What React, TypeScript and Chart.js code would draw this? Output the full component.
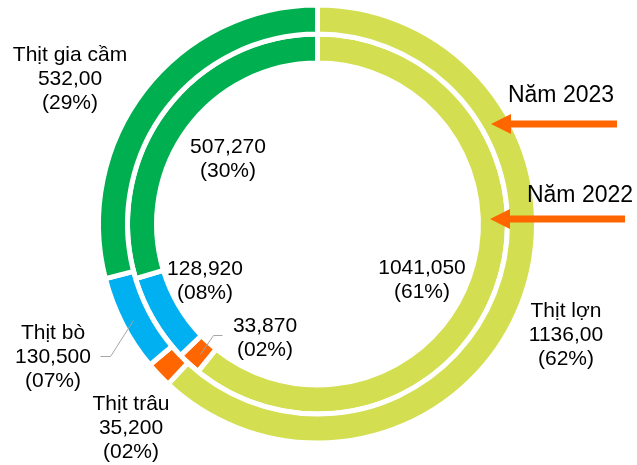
import React, { useEffect, useRef } from "react";
import { Chart, registerables } from "chart.js";

Chart.register(...registerables);

// ---- data ----
const categories = ["Thịt lợn", "Thịt trâu", "Thịt bò", "Thịt gia cầm"];
const seriesNames = ["Năm 2023", "Năm 2022"];
const values2023 = [1136.0, 35.2, 130.5, 532.0];
const values2022 = [1041.05, 33.87, 128.92, 507.27];
const valueText2023 = ["1136,00", "35,200", "130,500", "532,00"];
const valueText2022 = ["1041,050", "33,870", "128,920", "507,270"];
const pctText2023 = ["(62%)", "(02%)", "(07%)", "(29%)"];
const pctText2022 = ["(61%)", "(02%)", "(08%)", "(30%)"];
const colors = ["#D3DE50", "#FF6600", "#00B0F0", "#00B050"];

// ---- layout of annotations (pixel positions in the canvas) ----
const FONT = '"Liberation Sans", Arial, sans-serif';
const outerLabelPos = [
  [566, 317],
  [131, 410],
  [53, 339],
  [70, 61],
];
const innerLabelPos = [
  [422, 274],
  [265, 332],
  [205, 275],
  [228, 153],
];
const seriesLabelPos = [
  [561, 102],
  [580, 202],
];
const arrows = [
  { x1: 617, x2: 491, y: 124 },
  { x1: 625, x2: 490, y: 219 },
];
const leaders = [
  [
    [100, 356],
    [110, 356],
    [133, 320],
  ],
  [
    [222, 335],
    [213, 335],
    [200, 354],
  ],
];

const annotationPlugin = {
  id: "annotations",
  afterDatasetsDraw(chart: any) {
    const ctx = chart.ctx as CanvasRenderingContext2D;
    ctx.save();
    // leader lines
    ctx.strokeStyle = "#A6A6A6";
    ctx.lineWidth = 1;
    leaders.forEach((pts) => {
      ctx.beginPath();
      pts.forEach(([x, y], i) => (i === 0 ? ctx.moveTo(x + 0.5, y + 0.5) : ctx.lineTo(x + 0.5, y + 0.5)));
      ctx.stroke();
    });
    // data labels
    ctx.fillStyle = "#000";
    ctx.textAlign = "center";
    ctx.textBaseline = "alphabetic";
    ctx.font = `21px ${FONT}`;
    const lh = 24;
    categories.forEach((cat, i) => {
      const [x, y] = outerLabelPos[i];
      [cat, valueText2023[i], pctText2023[i]].forEach((t, k) => ctx.fillText(t, x, y + k * lh));
      const [x2, y2] = innerLabelPos[i];
      [valueText2022[i], pctText2022[i]].forEach((t, k) => ctx.fillText(t, x2, y2 + k * lh));
    });
    // series labels
    ctx.font = `23px ${FONT}`;
    seriesNames.forEach((s, i) => {
      const [x, y] = seriesLabelPos[i];
      ctx.fillText(s, x, y);
    });
    // arrows
    ctx.fillStyle = "#FF6600";
    ctx.strokeStyle = "#FF6600";
    arrows.forEach(({ x1, x2, y }) => {
      const headLen = 20;
      ctx.lineWidth = 7;
      ctx.beginPath();
      ctx.moveTo(x1, y);
      ctx.lineTo(x2 + headLen - 2, y);
      ctx.stroke();
      ctx.beginPath();
      ctx.moveTo(x2, y);
      ctx.lineTo(x2 + headLen, y - 10);
      ctx.lineTo(x2 + headLen, y + 10);
      ctx.closePath();
      ctx.fill();
    });
    ctx.restore();
  },
};

export default function App() {
  const ref = useRef<HTMLCanvasElement | null>(null);
  useEffect(() => {
    if (!ref.current) return;
    const chart = new Chart(ref.current, {
      type: "doughnut",
      data: {
        labels: categories,
        datasets: [
          {
            label: seriesNames[0],
            data: values2023,
            backgroundColor: colors,
            borderColor: "#FFFFFF",
            borderWidth: 5,
            borderJoinStyle: "miter",
          },
          {
            label: seriesNames[1],
            data: values2022,
            backgroundColor: colors,
            borderColor: "#FFFFFF",
            borderWidth: 5,
            borderJoinStyle: "miter",
          },
        ],
      },
      options: {
        responsive: false,
        animation: false,
        radius: 219,
        cutout: "73.5%",
        layout: { padding: { left: 0, right: 2, top: 0, bottom: 17 } },
        plugins: {
          legend: { display: false },
          tooltip: { enabled: false },
        },
      } as any,
      plugins: [annotationPlugin],
    });
    return () => chart.destroy();
  }, []);
  return (
    <div style={{ position: "absolute", left: 0, top: 0, width: 637, height: 465, background: "#fff" }}>
      <canvas ref={ref} width={637} height={465} style={{ display: "block" }} />
    </div>
  );
}
